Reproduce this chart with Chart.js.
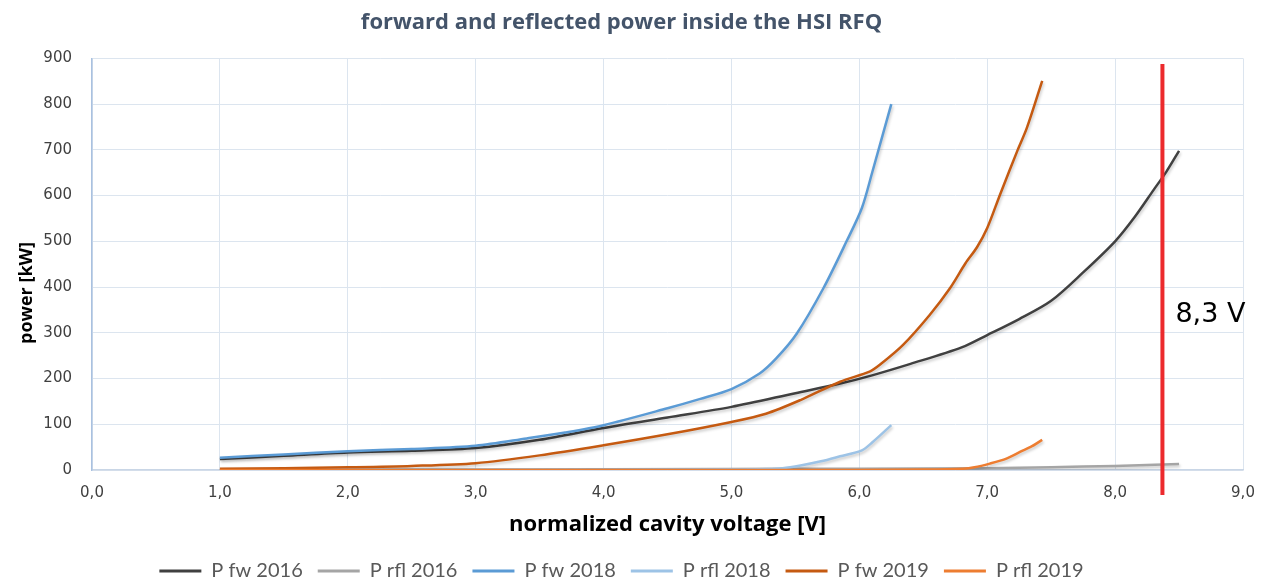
<!DOCTYPE html>
<html>
<head>
<meta charset="utf-8">
<title>HSI RFQ power</title>
<script src="https://cdn.jsdelivr.net/npm/chart.js@4.4.1/dist/chart.umd.min.js"></script>
<style>
  html, body { margin: 0; padding: 0; background: #fff; }
  #wrap { width: 1269px; height: 578px; position: relative; }
</style>
</head>
<body>
<div id="wrap"><canvas id="powerChart"></canvas></div>
<script>
/* ---------------- Data ---------------- */
const seriesNames = ['P fw 2016', 'P rfl 2016', 'P fw 2018', 'P rfl 2018', 'P fw 2019', 'P rfl 2019'];
const seriesColors = ['#404040', '#A5A5A5', '#5B9BD5', '#9DC3E6', '#C55A11', '#ED7D31'];

// cavity voltage [V] / power [kW]
const fw2016V = [1.0, 1.5, 2.0, 2.5, 3.0, 3.5, 4.0, 4.5, 5.0, 5.5, 5.85, 6.1, 6.4, 6.8, 7.0, 7.25, 7.5, 7.75, 8.0, 8.15, 8.3, 8.4, 8.5];
const fw2016P = [24, 31, 38, 42, 48, 66, 92, 115, 138, 168, 189, 207, 232, 268, 295, 330, 370, 432, 500, 552, 612, 652, 698];

const rfl2016V = [1.0, 3.0, 5.0, 6.0, 7.0, 7.5, 8.0, 8.5];
const rfl2016P = [0, 1, 2, 3, 4, 6, 9, 13];

const fw2018V = [1.0, 1.5, 2.0, 2.5, 3.0, 3.4, 3.7, 4.0, 4.5, 4.75, 5.0, 5.22, 5.35, 5.51, 5.72, 5.9, 6.02, 6.1, 6.25];
const fw2018P = [27, 34, 41, 46, 53, 69, 82, 98, 135, 155, 177, 211, 244, 298, 398, 500, 573, 650, 800];

const rfl2018V = [1.0, 4.0, 5.0, 5.27, 5.4, 5.54, 5.7, 5.85, 6.02, 6.1, 6.25];
const rfl2018P = [0, 0, 1, 2, 4, 10, 19, 30, 43, 60, 98];

const fw2019V = [1.0, 1.5, 2.0, 2.5, 3.0, 3.5, 4.0, 4.5, 5.0, 5.27, 5.54, 5.85, 6.08, 6.16, 6.34, 6.55, 6.71, 6.83, 6.92, 7.0, 7.1, 7.24, 7.31, 7.43];
const fw2019P = [3, 4, 6, 9, 15, 32, 54, 78, 105, 123, 153, 193, 215, 230, 273, 339, 398, 452, 487, 529, 602, 701, 748, 851];

const rfl2019V = [1.0, 6.0, 6.5, 6.81, 6.9, 7.02, 7.15, 7.26, 7.35, 7.43];
const rfl2019P = [0, 0, 1, 3, 6, 14, 25, 40, 52, 66];

const voltages = [fw2016V, rfl2016V, fw2018V, rfl2018V, fw2019V, rfl2019V];
const powers = [fw2016P, rfl2016P, fw2018P, rfl2018P, fw2019P, rfl2019P];

const xTicks = [0, 1, 2, 3, 4, 5, 6, 7, 8, 9];
const yTicks = [0, 100, 200, 300, 400, 500, 600, 700, 800, 900];

// operating point marker
const markerV = 8.37;
const markerLabel = '8,3 V';

/* ---------------- Plugins ---------------- */
// soft drop shadow under the curves
const lineShadow = {
  id: 'lineShadow',
  beforeDatasetsDraw(chart) {
    const ctx = chart.ctx;
    ctx.save();
    ctx.shadowColor = 'rgba(0,0,0,0.22)';
    ctx.shadowBlur = 3;
    ctx.shadowOffsetX = 1;
    ctx.shadowOffsetY = 2;
  },
  afterDatasetsDraw(chart) {
    chart.ctx.restore();
  }
};

// red vertical marker, its label and the y axis title
const extras = {
  id: 'extras',
  afterDraw(chart) {
    const ctx = chart.ctx;
    const xs = chart.scales.x, ys = chart.scales.y;
    const x = xs.getPixelForValue(markerV);
    ctx.save();
    ctx.strokeStyle = '#EC2A2D';
    ctx.lineWidth = 4;
    ctx.beginPath();
    ctx.moveTo(x, ys.getPixelForValue(888));
    ctx.lineTo(x, chart.chartArea.bottom + 25);
    ctx.stroke();

    ctx.fillStyle = '#000';
    ctx.font = '27px "DejaVu Sans"';
    ctx.textAlign = 'left';
    ctx.textBaseline = 'middle';
    ctx.fillText(markerLabel, x + 13, ys.getPixelForValue(340));

    ctx.translate(27, 293);
    ctx.rotate(-Math.PI / 2);
    ctx.textAlign = 'center';
    ctx.font = 'bold 18px "Open Sans"';
    ctx.fillText('power [kW]', 0, 0);
    ctx.restore();
  }
};

/* ---------------- Chart ---------------- */
const datasets = seriesNames.map((name, i) => ({
  label: name,
  data: voltages[i].map((v, k) => ({ x: v, y: powers[i][k] })),
  borderColor: seriesColors[i],
  backgroundColor: seriesColors[i],
  borderWidth: 2.5,
  pointRadius: 0,
  tension: 0.3,
  order: seriesNames.length - i   // later series on top
}));

const commaFmt = v => v.toFixed(1).replace('.', ',');

const ctx = document.getElementById('powerChart').getContext('2d');
new Chart(ctx, {
  type: 'line',
  data: { datasets },
  options: {
    responsive: true,
    maintainAspectRatio: false,
    animation: false,
    layout: { padding: { left: 0, right: 26, top: 0, bottom: -13 } },
    plugins: {
      title: {
        display: true,
        text: 'forward and reflected power inside the HSI RFQ',
        color: '#44546A',
        font: { family: 'Open Sans', size: 22, weight: 'bold' },
        padding: { top: 10, bottom: 22 }
      },
      legend: {
        position: 'bottom',
        labels: {
          color: '#595959',
          font: { family: 'Lato', size: 20 },
          boxWidth: 42,
          boxHeight: 3,
          padding: 15,
          sort: (a, b) => a.datasetIndex - b.datasetIndex,
          generateLabels(chart) {
            const items = Chart.defaults.plugins.legend.labels.generateLabels(chart);
            items.forEach(it => { it.lineWidth = 0; });
            return items;
          }
        }
      },
      tooltip: { enabled: false }
    },
    scales: {
      x: {
        type: 'linear',
        min: 0, max: 9,
        afterBuildTicks: s => { s.ticks = xTicks.map(v => ({ value: v })); },
        afterFit: s => { s.height = 76; },
        ticks: {
          callback: commaFmt,
          color: '#404040',
          font: { family: 'DejaVu Sans', size: 15 },
          padding: 14,
          maxRotation: 0
        },
        grid: { color: '#DCE5EF', drawTicks: false, lineWidth: 1 },
        border: { color: '#C9D6E6', width: 1.5 },
        title: {
          display: true,
          text: 'normalized cavity voltage [V]',
          color: '#000',
          font: { family: 'Open Sans', size: 22, weight: 'bold' },
          padding: { top: 0, bottom: 8 }
        }
      },
      y: {
        min: 0, max: 900,
        afterBuildTicks: s => { s.ticks = yTicks.map(v => ({ value: v })); },
        afterFit: s => { s.width = 92; },
        ticks: {
          color: '#404040',
          font: { family: 'DejaVu Sans', size: 15 },
          padding: 20
        },
        grid: { color: '#DCE5EF', drawTicks: false, lineWidth: 1 },
        border: { color: '#A9C1E0', width: 1.5 }
      }
    }
  },
  plugins: [lineShadow, extras]
});
</script>
</body>
</html>
